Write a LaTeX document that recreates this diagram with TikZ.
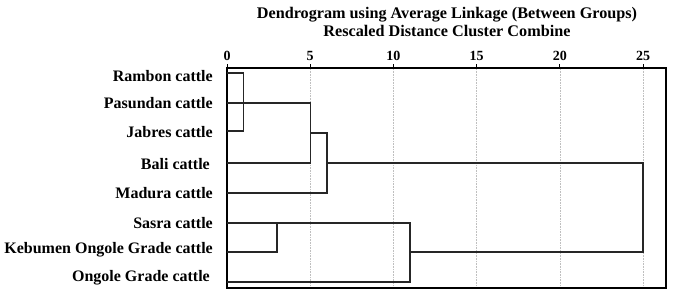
\documentclass[tikz,border=0pt]{standalone}
\usepackage{fontspec}
\setmainfont{Liberation Serif}
\begin{document}
\begin{tikzpicture}[x=1pt,y=-1pt,
  lab/.style={anchor=east,font=\fontsize{16}{18}\selectfont\bfseries,inner sep=0pt},
  ttl/.style={font=\fontsize{16.2}{18}\selectfont\bfseries,align=center,inner sep=0pt},
  ticklab/.style={font=\fontsize{14}{15}\selectfont\bfseries,inner sep=0pt},
  link/.style={line width=1.4pt,black!85},
  frame/.style={line width=1.8pt},
  grid/.style={densely dotted,black!25,line width=0.6pt}]
\useasboundingbox (0,0) rectangle (673,296);
\fill[white] (0,0) rectangle (673,296);
\def\ux{16.64}
% title
\node[ttl] (title) at (447,22) {Dendrogram using Average Linkage (Between Groups)\\Rescaled Distance Cluster Combine};
% gridlines, ticks, tick labels
\foreach \v in {5,10,15,20,25}{
  \draw[grid] ({227+\ux*\v},69) -- ({227+\ux*\v},287);
}
\foreach \v in {0,5,10,15,20,25}{
  \coordinate (t\v) at ({227+\ux*\v},68);
  \draw[line width=0.9pt] (t\v) -- ++(0,-4);
  \node[ticklab] (tl\v) at ({227+\ux*\v},56) {\v};
}
% frame
\draw[frame] (227,68) rectangle (666,288);
% labels
\node[lab] (rambon) at (213,76) {Rambon cattle};
\node[lab] (pasundan) at (213,103) {Pasundan cattle};
\node[lab] (jabres) at (213,132) {Jabres cattle};
\node[lab] (bali) at (210,164) {Bali cattle};
\node[lab] (madura) at (213,193) {Madura cattle};
\node[lab] (sasra) at (213,223) {Sasra cattle};
\node[lab] (kebumen) at (213,250) {Kebumen Ongole Grade cattle};
\node[lab] (ongole) at (210,278) {Ongole Grade cattle};
% leaf coordinates
\coordinate (lR) at (227,73);
\coordinate (lP) at (227,103);
\coordinate (lJ) at (227,131);
\coordinate (lB) at (227,163);
\coordinate (lM) at (227,193);
\coordinate (lS) at (227,223);
\coordinate (lK) at (227,252);
\coordinate (lO) at (227,282);
% join coordinates
\coordinate (j1) at ({227+\ux*1},102);
\coordinate (j5) at ({227+\ux*5},133);
\coordinate (j6) at ({227+\ux*6},163);
\coordinate (j3) at ({227+\ux*3},223);
\coordinate (j11) at ({227+\ux*11},252);
\coordinate (j25) at ({227+\ux*25},208);
% links
\draw[link] (lR) -| (j1) |- (lJ);
\draw[link] (lP) -| (j5) |- (lB);
\draw[link] (j5) -| (j6) |- (lM);
\draw[link] (lS) -| (j3) |- (lK);
\draw[link] (lS) -| (j11) |- (lO);
\draw[link] (j6) -| (j25) |- (j11);
\end{tikzpicture}
\end{document}
